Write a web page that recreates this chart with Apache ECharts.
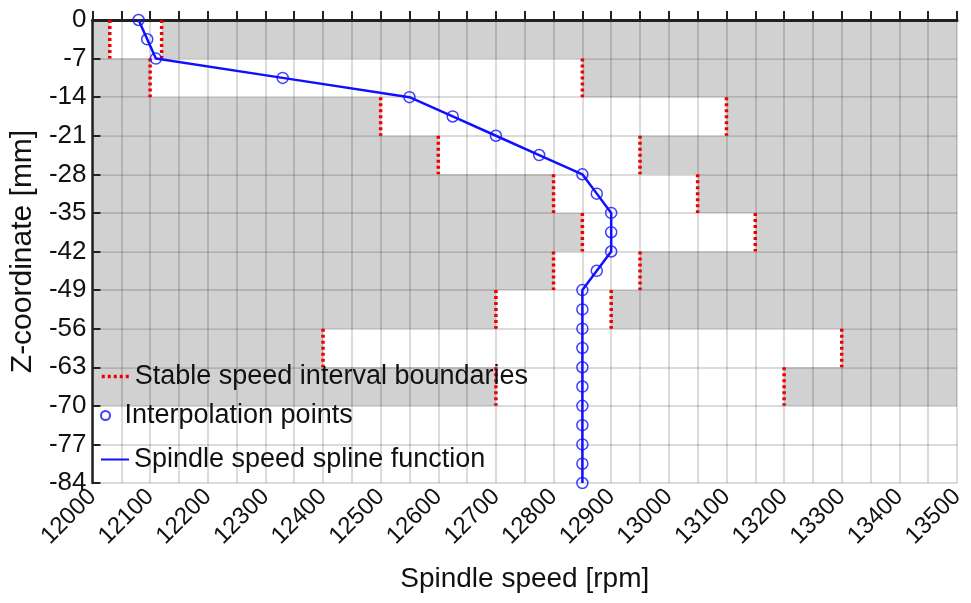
<!DOCTYPE html>
<html>
<head>
<meta charset="utf-8">
<script src="https://cdn.jsdelivr.net/npm/echarts@6/dist/echarts.min.js"></script>
<style>
  html, body { margin: 0; padding: 0; background: #fff; }
  #chart { width: 971px; height: 603px; }
</style>
</head>
<body>
<div id="chart"></div>
<script>
// each 7 mm layer: stable spindle speed interval [lo, hi] (rpm)
var layerTop = [0, -7, -14, -21, -28, -35, -42, -49, -56, -63, -70, -77];
var stableLo = [12030, 12100, 12500, 12600, 12800, 12850, 12800, 12700, 12400, 12700, 12000, 12000];
var stableHi = [12120, 12850, 13100, 12950, 13050, 13150, 12950, 12900, 13300, 13200, 13500, 13500];

// interpolation points of the spindle speed spline
var pointZ = [0, -3.5, -7, -10.5, -14, -17.5, -21, -24.5, -28, -31.5, -35, -38.5, -42,
  -45.5, -49, -52.5, -56, -59.5, -63, -66.5, -70, -73.5, -77, -80.5, -84];
var pointSpeed = [12080, 12095, 12110, 12330, 12550, 12625, 12700, 12775, 12850, 12875, 12900, 12900, 12900,
  12875, 12850, 12850, 12850, 12850, 12850, 12850, 12850, 12850, 12850, 12850, 12850];

var speedMin = 12000, speedMax = 13500, layerH = 7;

// gray (unstable) regions outside each stable interval
var grayRects = [];
var boundaryData = [];
layerTop.forEach(function (top, i) {
  var bot = top - layerH;
  if (stableLo[i] > speedMin) {
    grayRects.push([speedMin, stableLo[i], top, bot]);
    boundaryData.push([stableLo[i], top], [stableLo[i], bot], '-');
  }
  if (stableHi[i] < speedMax) {
    grayRects.push([stableHi[i], speedMax, top, bot]);
    boundaryData.push([stableHi[i], top], [stableHi[i], bot], '-');
  }
});

var splineData = pointSpeed.map(function (s, i) { return [s, pointZ[i]]; });

var font = 'Arial, "Liberation Sans", sans-serif';
var gridColor = 'rgba(0,0,0,0.14)';
var plain = function (v) { return String(v); };

var chart = echarts.init(document.getElementById('chart'));
var option = {
  animation: false,
  grid: { left: 88, right: 14, top: 20, bottom: 120 },
  xAxis: {
    type: 'value',
    min: speedMin,
    max: speedMax,
    interval: 100,
    z: 2,
    name: 'Spindle speed [rpm]',
    nameLocation: 'middle',
    nameGap: 82,
    nameTextStyle: { fontSize: 28, color: '#111', fontFamily: font },
    axisLine: { lineStyle: { color: '#222', width: 3 } },
    axisTick: { inside: true, length: 9, lineStyle: { color: '#222', width: 2 } },
    minorTick: { show: true, splitNumber: 2, length: 9, lineStyle: { color: '#222', width: 2 } },
    splitLine: { show: true, lineStyle: { color: gridColor, width: 2 } },
    minorSplitLine: { show: true, lineStyle: { color: gridColor, width: 2 } },
    axisLabel: { rotate: 45, fontSize: 24, color: '#111', margin: 10, fontFamily: font, formatter: plain }
  },
  yAxis: {
    type: 'value',
    min: -84,
    max: 0,
    interval: 7,
    z: 2,
    name: 'Z-coordinate [mm]',
    nameLocation: 'middle',
    nameGap: 44,
    nameTextStyle: { fontSize: 30, color: '#111', fontFamily: font },
    axisLine: { lineStyle: { color: '#222', width: 2.5 } },
    axisTick: { inside: true, length: 8, lineStyle: { color: '#222', width: 2 } },
    splitLine: { show: true, lineStyle: { color: gridColor, width: 2 } },
    axisLabel: { fontSize: 26, color: '#111', margin: 6, fontFamily: font, formatter: plain }
  },
  legend: [
    {
      data: ['Stable speed interval boundaries'],
      left: 95, top: 358, itemWidth: 28, itemHeight: 14, z: 10,
      textStyle: { fontSize: 27, color: '#111', fontFamily: font },
      itemStyle: { opacity: 0 },
      lineStyle: { type: [3, 3], width: 3.5, color: '#ee0000' }
    },
    {
      data: ['Interpolation points'],
      left: 95, top: 397, itemWidth: 28, itemHeight: 9, z: 10,
      textStyle: { fontSize: 27, color: '#111', fontFamily: font }
    },
    {
      data: ['Spindle speed spline function'],
      left: 95, top: 441, itemWidth: 28, itemHeight: 14, z: 10,
      textStyle: { fontSize: 27, color: '#111', fontFamily: font },
      itemStyle: { opacity: 0 },
      lineStyle: { width: 2 }
    }
  ],
  series: [
    {
      name: 'unstable',
      type: 'custom',
      z: 1,
      silent: true,
      encode: { x: [0, 1], y: [2, 3] },
      data: grayRects,
      renderItem: function (params, api) {
        var p0 = api.coord([api.value(0), api.value(2)]);
        var p1 = api.coord([api.value(1), api.value(3)]);
        return {
          type: 'rect',
          shape: { x: p0[0], y: p0[1], width: p1[0] - p0[0], height: p1[1] - p0[1] },
          style: { fill: '#d1d1d1' }
        };
      }
    },
    {
      name: 'Stable speed interval boundaries',
      type: 'line',
      z: 3,
      symbol: 'none',
      connectNulls: false,
      data: boundaryData,
      lineStyle: { color: '#ee0000', width: 3.5, type: [3, 3] }
    },
    {
      name: 'Spindle speed spline function',
      type: 'line',
      z: 4,
      symbol: 'none',
      data: splineData,
      itemStyle: { color: '#1010ff' },
      lineStyle: { color: '#1010ff', width: 2.5 }
    },
    {
      name: 'Interpolation points',
      type: 'scatter',
      z: 5,
      symbol: 'circle',
      symbolSize: 11,
      data: splineData,
      itemStyle: { color: 'rgba(0,0,0,0)', borderColor: '#1010ff', borderWidth: 1.5 }
    }
  ]
};
chart.setOption(option);
</script>
</body>
</html>
